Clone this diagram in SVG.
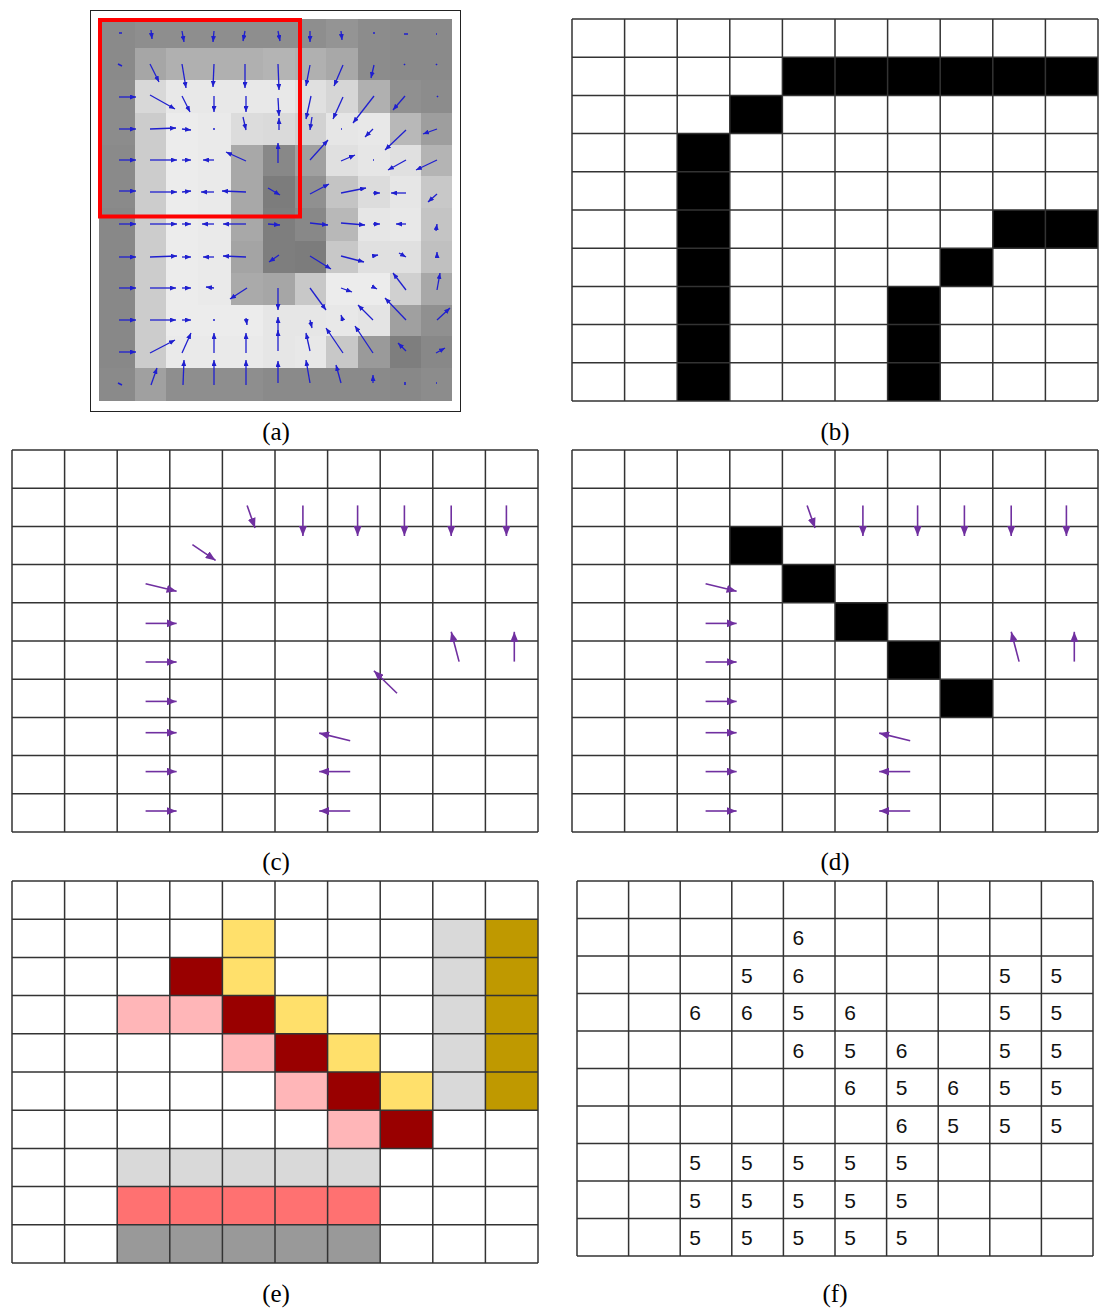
<svg xmlns="http://www.w3.org/2000/svg" width="1099" height="1310" viewBox="0 0 1099 1310">
<style>
.grid{fill:none;stroke:#333;stroke-width:1.5}
.blk{fill:#000}
.pa{stroke:#7030a0;stroke-width:1.6;fill:none;marker-end:url(#ap)}
.ba{stroke:#1f1fcf;stroke-width:1.3;fill:none;marker-end:url(#ab)}
.bd{stroke:#1f1fcf;stroke-width:1.6;fill:none}
.lbl{font-family:"Liberation Serif","Times New Roman",serif;font-size:25px;text-anchor:middle;fill:#000}
.num{font-family:"Liberation Sans",Arial,sans-serif;font-size:21px;text-anchor:middle;fill:#111}
</style>
<defs>
<marker id="ap" viewBox="0 0 10 8" refX="10" refY="4" markerWidth="10" markerHeight="8" markerUnits="userSpaceOnUse" orient="auto"><path d="M0,0L10,4L0,8z" fill="#7030a0"/></marker>
<marker id="ab" viewBox="0 0 6 5" refX="6" refY="2.5" markerWidth="6" markerHeight="5" markerUnits="userSpaceOnUse" orient="auto"><path d="M0,0L6,2.5L0,5z" fill="#1f1fcf"/></marker>
</defs>
<rect width="1099" height="1310" fill="#fff"/>

<g id="panel-a">
<g id="pixels-a">
<!-- row 0 -->
<rect x="99" y="19" width="36" height="29" fill="#8a8a8a"/><rect x="135" y="19" width="31" height="29" fill="#8e8e8e"/><rect x="166" y="19" width="32" height="29" fill="#8e8e8e"/><rect x="198" y="19" width="33" height="29" fill="#8e8e8e"/><rect x="231" y="19" width="32" height="29" fill="#8e8e8e"/><rect x="263" y="19" width="32" height="29" fill="#8e8e8e"/><rect x="295" y="19" width="31" height="29" fill="#8e8e8e"/><rect x="326" y="19" width="32" height="29" fill="#949494"/><rect x="358" y="19" width="32" height="29" fill="#8c8c8c"/><rect x="390" y="19" width="31" height="29" fill="#8a8a8a"/><rect x="421" y="19" width="31" height="29" fill="#8a8a8a"/>
<!-- row 1 -->
<rect x="99" y="48" width="36" height="32" fill="#8a8a8a"/><rect x="135" y="48" width="31" height="32" fill="#a6a6a6"/><rect x="166" y="48" width="32" height="32" fill="#b0b0b0"/><rect x="198" y="48" width="33" height="32" fill="#b0b0b0"/><rect x="231" y="48" width="32" height="32" fill="#b0b0b0"/><rect x="263" y="48" width="32" height="32" fill="#b4b4b4"/><rect x="295" y="48" width="31" height="32" fill="#b0b0b0"/><rect x="326" y="48" width="32" height="32" fill="#a8a8a8"/><rect x="358" y="48" width="32" height="32" fill="#8c8c8c"/><rect x="390" y="48" width="31" height="32" fill="#8a8a8a"/><rect x="421" y="48" width="31" height="32" fill="#8a8a8a"/>
<!-- row 2 -->
<rect x="99" y="80" width="36" height="33" fill="#8c8c8c"/><rect x="135" y="80" width="31" height="33" fill="#d8d8d8"/><rect x="166" y="80" width="32" height="33" fill="#e8e8e8"/><rect x="198" y="80" width="33" height="33" fill="#e8e8e8"/><rect x="231" y="80" width="32" height="33" fill="#e8e8e8"/><rect x="263" y="80" width="32" height="33" fill="#e8e8e8"/><rect x="295" y="80" width="31" height="33" fill="#e0e0e0"/><rect x="326" y="80" width="32" height="33" fill="#d6d6d6"/><rect x="358" y="80" width="32" height="33" fill="#b0b0b0"/><rect x="390" y="80" width="31" height="33" fill="#909090"/><rect x="421" y="80" width="31" height="33" fill="#8c8c8c"/>
<!-- row 3 -->
<rect x="99" y="113" width="36" height="32" fill="#8c8c8c"/><rect x="135" y="113" width="31" height="32" fill="#cccccc"/><rect x="166" y="113" width="32" height="32" fill="#ececec"/><rect x="198" y="113" width="33" height="32" fill="#eaeaea"/><rect x="231" y="113" width="32" height="32" fill="#dcdcdc"/><rect x="263" y="113" width="32" height="32" fill="#dadada"/><rect x="295" y="113" width="31" height="32" fill="#d2d2d2"/><rect x="326" y="113" width="32" height="32" fill="#e6e6e6"/><rect x="358" y="113" width="32" height="32" fill="#e8e8e8"/><rect x="390" y="113" width="31" height="32" fill="#b8b8b8"/><rect x="421" y="113" width="31" height="32" fill="#9e9e9e"/>
<!-- row 4 -->
<rect x="99" y="145" width="36" height="31" fill="#8a8a8a"/><rect x="135" y="145" width="31" height="31" fill="#cccccc"/><rect x="166" y="145" width="32" height="31" fill="#ececec"/><rect x="198" y="145" width="33" height="31" fill="#eaeaea"/><rect x="231" y="145" width="32" height="31" fill="#a8a8a8"/><rect x="263" y="145" width="32" height="31" fill="#888888"/><rect x="295" y="145" width="31" height="31" fill="#a0a0a0"/><rect x="326" y="145" width="32" height="31" fill="#e0e0e0"/><rect x="358" y="145" width="32" height="31" fill="#e6e6e6"/><rect x="390" y="145" width="31" height="31" fill="#e0e0e0"/><rect x="421" y="145" width="31" height="31" fill="#b4b4b4"/>
<!-- row 5 -->
<rect x="99" y="176" width="36" height="32" fill="#8a8a8a"/><rect x="135" y="176" width="31" height="32" fill="#cccccc"/><rect x="166" y="176" width="32" height="32" fill="#ececec"/><rect x="198" y="176" width="33" height="32" fill="#eaeaea"/><rect x="231" y="176" width="32" height="32" fill="#a8a8a8"/><rect x="263" y="176" width="32" height="32" fill="#7c7c7c"/><rect x="295" y="176" width="31" height="32" fill="#909090"/><rect x="326" y="176" width="32" height="32" fill="#c4c4c4"/><rect x="358" y="176" width="32" height="32" fill="#dcdcdc"/><rect x="390" y="176" width="31" height="32" fill="#e6e6e6"/><rect x="421" y="176" width="31" height="32" fill="#c8c8c8"/>
<!-- row 6 -->
<rect x="99" y="208" width="36" height="33" fill="#888888"/><rect x="135" y="208" width="31" height="33" fill="#cccccc"/><rect x="166" y="208" width="32" height="33" fill="#ececec"/><rect x="198" y="208" width="33" height="33" fill="#eaeaea"/><rect x="231" y="208" width="32" height="33" fill="#a8a8a8"/><rect x="263" y="208" width="32" height="33" fill="#7e7e7e"/><rect x="295" y="208" width="31" height="33" fill="#888888"/><rect x="326" y="208" width="32" height="33" fill="#b8b8b8"/><rect x="358" y="208" width="32" height="33" fill="#e6e6e6"/><rect x="390" y="208" width="31" height="33" fill="#e8e8e8"/><rect x="421" y="208" width="31" height="33" fill="#c4c4c4"/>
<!-- row 7 -->
<rect x="99" y="241" width="36" height="32" fill="#888888"/><rect x="135" y="241" width="31" height="32" fill="#cccccc"/><rect x="166" y="241" width="32" height="32" fill="#ececec"/><rect x="198" y="241" width="33" height="32" fill="#eaeaea"/><rect x="231" y="241" width="32" height="32" fill="#a4a4a4"/><rect x="263" y="241" width="32" height="32" fill="#7e7e7e"/><rect x="295" y="241" width="31" height="32" fill="#7c7c7c"/><rect x="326" y="241" width="32" height="32" fill="#c8c8c8"/><rect x="358" y="241" width="32" height="32" fill="#e0e0e0"/><rect x="390" y="241" width="31" height="32" fill="#e0e0e0"/><rect x="421" y="241" width="31" height="32" fill="#c0c0c0"/>
<!-- row 8 -->
<rect x="99" y="273" width="36" height="32" fill="#888888"/><rect x="135" y="273" width="31" height="32" fill="#cccccc"/><rect x="166" y="273" width="32" height="32" fill="#ececec"/><rect x="198" y="273" width="33" height="32" fill="#eaeaea"/><rect x="231" y="273" width="32" height="32" fill="#aaaaaa"/><rect x="263" y="273" width="32" height="32" fill="#a6a6a6"/><rect x="295" y="273" width="31" height="32" fill="#c8c8c8"/><rect x="326" y="273" width="32" height="32" fill="#ececec"/><rect x="358" y="273" width="32" height="32" fill="#ececec"/><rect x="390" y="273" width="31" height="32" fill="#d0d0d0"/><rect x="421" y="273" width="31" height="32" fill="#a8a8a8"/>
<!-- row 9 -->
<rect x="99" y="305" width="36" height="31" fill="#888888"/><rect x="135" y="305" width="31" height="31" fill="#cccccc"/><rect x="166" y="305" width="32" height="31" fill="#ececec"/><rect x="198" y="305" width="33" height="31" fill="#ececec"/><rect x="231" y="305" width="32" height="31" fill="#ececec"/><rect x="263" y="305" width="32" height="31" fill="#e6e6e6"/><rect x="295" y="305" width="31" height="31" fill="#e6e6e6"/><rect x="326" y="305" width="32" height="31" fill="#e8e8e8"/><rect x="358" y="305" width="32" height="31" fill="#e4e4e4"/><rect x="390" y="305" width="31" height="31" fill="#a0a0a0"/><rect x="421" y="305" width="31" height="31" fill="#909090"/>
<!-- row 10 -->
<rect x="99" y="336" width="36" height="32" fill="#888888"/><rect x="135" y="336" width="31" height="32" fill="#cccccc"/><rect x="166" y="336" width="32" height="32" fill="#eaeaea"/><rect x="198" y="336" width="33" height="32" fill="#eaeaea"/><rect x="231" y="336" width="32" height="32" fill="#eaeaea"/><rect x="263" y="336" width="32" height="32" fill="#e6e6e6"/><rect x="295" y="336" width="31" height="32" fill="#e8e8e8"/><rect x="326" y="336" width="32" height="32" fill="#c8c8c8"/><rect x="358" y="336" width="32" height="32" fill="#9a9a9a"/><rect x="390" y="336" width="31" height="32" fill="#7e7e7e"/><rect x="421" y="336" width="31" height="32" fill="#888888"/>
<!-- row 11 -->
<rect x="99" y="368" width="36" height="33" fill="#8a8a8a"/><rect x="135" y="368" width="31" height="33" fill="#a0a0a0"/><rect x="166" y="368" width="32" height="33" fill="#8e8e8e"/><rect x="198" y="368" width="33" height="33" fill="#8e8e8e"/><rect x="231" y="368" width="32" height="33" fill="#8e8e8e"/><rect x="263" y="368" width="32" height="33" fill="#8a8a8a"/><rect x="295" y="368" width="31" height="33" fill="#8a8a8a"/><rect x="326" y="368" width="32" height="33" fill="#8a8a8a"/><rect x="358" y="368" width="32" height="33" fill="#8a8a8a"/><rect x="390" y="368" width="31" height="33" fill="#888888"/><rect x="421" y="368" width="31" height="33" fill="#8c8c8c"/>
</g>
<g id="vectors-a">
<path class="bd" d="M119,33h3M373,33h2M404,34h4M436,34h1M118,64l4,2M404,64l1,1M436,64l1,1M437,96l1,1M213,129h2M341,129h1M373,160h1M213,320h2M118,383l4,2M405,385v-3M436,383h1"/>
<line class="ba" x1="151" y1="30" x2="152" y2="39"/><line class="ba" x1="182" y1="31" x2="184" y2="42"/><line class="ba" x1="214" y1="31" x2="213" y2="42"/><line class="ba" x1="245" y1="31" x2="243" y2="41"/><line class="ba" x1="278" y1="31" x2="280" y2="41"/><line class="ba" x1="310" y1="31" x2="310" y2="42"/><line class="ba" x1="341" y1="31" x2="342" y2="40"/>
<line class="ba" x1="150" y1="64" x2="159" y2="82"/><line class="ba" x1="182" y1="64" x2="186" y2="88"/><line class="ba" x1="214" y1="64" x2="213" y2="87"/><line class="ba" x1="245" y1="64" x2="245" y2="88"/><line class="ba" x1="278" y1="64" x2="279" y2="90"/><line class="ba" x1="310" y1="65" x2="306" y2="86"/><line class="ba" x1="343" y1="65" x2="334" y2="86"/><line class="ba" x1="374" y1="65" x2="371" y2="78"/>
<line class="ba" x1="119" y1="97" x2="136" y2="97"/><line class="ba" x1="150" y1="95" x2="175" y2="109"/><line class="ba" x1="182" y1="96" x2="190" y2="112"/><line class="ba" x1="214" y1="96" x2="214" y2="112"/><line class="ba" x1="246" y1="96" x2="246" y2="112"/><line class="ba" x1="278" y1="98" x2="279" y2="116"/><line class="ba" x1="311" y1="96" x2="306" y2="119"/><line class="ba" x1="343" y1="97" x2="333" y2="119"/><line class="ba" x1="374" y1="96" x2="353" y2="123"/><line class="ba" x1="405" y1="96" x2="393" y2="110"/>
<line class="ba" x1="119" y1="129" x2="136" y2="129"/><line class="ba" x1="150" y1="129" x2="176" y2="128"/><line class="ba" x1="182" y1="129" x2="191" y2="130"/><line class="ba" x1="243" y1="117" x2="246" y2="130"/><line class="ba" x1="279" y1="130" x2="279" y2="118"/><line class="ba" x1="312" y1="117" x2="310" y2="130"/><line class="ba" x1="373" y1="129" x2="365" y2="137"/><line class="ba" x1="406" y1="130" x2="385" y2="150"/><line class="ba" x1="437" y1="129" x2="423" y2="134"/>
<line class="ba" x1="119" y1="160" x2="136" y2="160"/><line class="ba" x1="150" y1="160" x2="177" y2="160"/><line class="ba" x1="182" y1="160" x2="191" y2="160"/><line class="ba" x1="214" y1="160" x2="203" y2="160"/><line class="ba" x1="246" y1="161" x2="226" y2="152"/><line class="ba" x1="278" y1="163" x2="278" y2="143"/><line class="ba" x1="310" y1="160" x2="328" y2="140"/><line class="ba" x1="341" y1="161" x2="355" y2="155"/><line class="ba" x1="406" y1="160" x2="388" y2="170"/><line class="ba" x1="437" y1="160" x2="416" y2="170"/>
<line class="ba" x1="119" y1="191" x2="136" y2="191"/><line class="ba" x1="150" y1="192" x2="177" y2="192"/><line class="ba" x1="182" y1="192" x2="191" y2="191"/><line class="ba" x1="214" y1="192" x2="201" y2="192"/><line class="ba" x1="246" y1="192" x2="222" y2="191"/><line class="ba" x1="268" y1="188" x2="280" y2="195"/><line class="ba" x1="310" y1="194" x2="329" y2="184"/><line class="ba" x1="341" y1="193" x2="366" y2="188"/><line class="ba" x1="373" y1="193" x2="380" y2="193"/><line class="ba" x1="406" y1="193" x2="391" y2="193"/><line class="ba" x1="437" y1="194" x2="428" y2="202"/>
<line class="ba" x1="119" y1="224" x2="136" y2="224"/><line class="ba" x1="150" y1="224" x2="177" y2="224"/><line class="ba" x1="182" y1="224" x2="191" y2="224"/><line class="ba" x1="214" y1="224" x2="202" y2="224"/><line class="ba" x1="246" y1="224" x2="223" y2="224"/><line class="ba" x1="268" y1="224" x2="280" y2="225"/><line class="ba" x1="310" y1="223" x2="328" y2="225"/><line class="ba" x1="341" y1="223" x2="365" y2="225"/><line class="ba" x1="373" y1="224" x2="380" y2="224"/><line class="ba" x1="406" y1="224" x2="396" y2="224"/><line class="ba" x1="436" y1="231" x2="437" y2="224"/>
<line class="ba" x1="119" y1="257" x2="136" y2="257"/><line class="ba" x1="150" y1="257" x2="177" y2="256"/><line class="ba" x1="182" y1="257" x2="191" y2="257"/><line class="ba" x1="214" y1="257" x2="203" y2="257"/><line class="ba" x1="246" y1="257" x2="223" y2="256"/><line class="ba" x1="279" y1="255" x2="269" y2="262"/><line class="ba" x1="310" y1="256" x2="331" y2="269"/><line class="ba" x1="341" y1="256" x2="364" y2="262"/><line class="ba" x1="373" y1="256" x2="378" y2="255"/><line class="ba" x1="399" y1="253" x2="406" y2="257"/><line class="ba" x1="437" y1="257" x2="437" y2="252"/>
<line class="ba" x1="119" y1="288" x2="136" y2="288"/><line class="ba" x1="150" y1="288" x2="176" y2="288"/><line class="ba" x1="182" y1="288" x2="191" y2="288"/><line class="ba" x1="214" y1="288" x2="206" y2="287"/><line class="ba" x1="247" y1="288" x2="230" y2="299"/><line class="ba" x1="278" y1="288" x2="278" y2="310"/><line class="ba" x1="310" y1="288" x2="326" y2="310"/><line class="ba" x1="341" y1="288" x2="352" y2="292"/><line class="ba" x1="373" y1="287" x2="377" y2="289"/><line class="ba" x1="406" y1="290" x2="393" y2="273"/><line class="ba" x1="437" y1="290" x2="440" y2="273"/>
<line class="ba" x1="119" y1="320" x2="136" y2="320"/><line class="ba" x1="150" y1="320" x2="176" y2="320"/><line class="ba" x1="182" y1="320" x2="191" y2="320"/><line class="ba" x1="246" y1="318" x2="247" y2="325"/><line class="ba" x1="278" y1="333" x2="278" y2="317"/><line class="ba" x1="310" y1="320" x2="312" y2="328"/><line class="ba" x1="343" y1="321" x2="341" y2="315"/><line class="ba" x1="373" y1="320" x2="358" y2="305"/><line class="ba" x1="406" y1="320" x2="385" y2="298"/><line class="ba" x1="437" y1="320" x2="450" y2="308"/>
<line class="ba" x1="119" y1="352" x2="136" y2="352"/><line class="ba" x1="150" y1="353" x2="175" y2="340"/><line class="ba" x1="182" y1="353" x2="191" y2="333"/><line class="ba" x1="214" y1="353" x2="214" y2="333"/><line class="ba" x1="246" y1="353" x2="246" y2="333"/><line class="ba" x1="278" y1="351" x2="278" y2="330"/><line class="ba" x1="310" y1="351" x2="306" y2="333"/><line class="ba" x1="343" y1="353" x2="326" y2="328"/><line class="ba" x1="373" y1="353" x2="355" y2="326"/><line class="ba" x1="406" y1="351" x2="398" y2="343"/><line class="ba" x1="436" y1="353" x2="445" y2="348"/>
<line class="ba" x1="151" y1="385" x2="157" y2="368"/><line class="ba" x1="183" y1="385" x2="184" y2="360"/><line class="ba" x1="214" y1="385" x2="214" y2="360"/><line class="ba" x1="246" y1="385" x2="246" y2="360"/><line class="ba" x1="278" y1="383" x2="278" y2="361"/><line class="ba" x1="310" y1="383" x2="306" y2="360"/><line class="ba" x1="341" y1="383" x2="336" y2="365"/><line class="ba" x1="373" y1="383" x2="373" y2="375"/>
</g>
<rect x="100" y="20" width="200" height="196.5" fill="none" stroke="#ff0000" stroke-width="4"/>
<rect x="90.5" y="10.5" width="370" height="401" fill="none" stroke="#222" stroke-width="1"/>
<text class="lbl" x="276" y="440">(a)</text>
</g>

<g id="panel-b">
<rect class="blk" x="782.4" y="57.2" width="315.6" height="38.2"/>
<rect class="blk" x="729.8" y="95.4" width="52.6" height="38.2"/>
<rect class="blk" x="677.2" y="133.6" width="52.6" height="267.4"/>
<rect class="blk" x="992.8" y="210" width="105.2" height="38.2"/>
<rect class="blk" x="940.2" y="248.2" width="52.6" height="38.2"/>
<rect class="blk" x="887.6" y="286.4" width="52.6" height="114.6"/>
<path class="grid" d="M572,19V401M624.6,19V401M677.2,19V401M729.8,19V401M782.4,19V401M835,19V401M887.6,19V401M940.2,19V401M992.8,19V401M1045.4,19V401M1098,19V401M572,19H1098M572,57.2H1098M572,95.4H1098M572,133.6H1098M572,171.8H1098M572,210H1098M572,248.2H1098M572,286.4H1098M572,324.6H1098M572,362.8H1098M572,401H1098"/>
<text class="lbl" x="835" y="440">(b)</text>
</g>

<g id="panel-c">
<path class="grid" d="M12,450V832M64.6,450V832M117.2,450V832M169.8,450V832M222.4,450V832M275,450V832M327.6,450V832M380.2,450V832M432.8,450V832M485.4,450V832M538,450V832M12,450H538M12,488.2H538M12,526.4H538M12,564.6H538M12,602.8H538M12,641H538M12,679.2H538M12,717.4H538M12,755.6H538M12,793.8H538M12,832H538"/>
<g id="arrows-c">
<line class="pa" x1="247.1" y1="505.4" x2="255" y2="527.9"/>
<line class="pa" x1="302.9" y1="505.4" x2="302.9" y2="536"/>
<line class="pa" x1="357.6" y1="505.4" x2="357.6" y2="536"/>
<line class="pa" x1="404.4" y1="505.4" x2="404.4" y2="536"/>
<line class="pa" x1="451.2" y1="505.4" x2="451.2" y2="536"/>
<line class="pa" x1="506.4" y1="505.4" x2="506.4" y2="536"/>
<line class="pa" x1="192.4" y1="544.7" x2="215.6" y2="560.4"/>
<line class="pa" x1="145.6" y1="583.7" x2="176.6" y2="591.3"/>
<line class="pa" x1="145.6" y1="623.4" x2="176.6" y2="623.4"/>
<line class="pa" x1="145.6" y1="662" x2="176.6" y2="662"/>
<line class="pa" x1="145.6" y1="701.4" x2="176.6" y2="701.4"/>
<line class="pa" x1="145.6" y1="732.7" x2="176.6" y2="732.7"/>
<line class="pa" x1="145.6" y1="771.6" x2="176.6" y2="771.6"/>
<line class="pa" x1="145.6" y1="811" x2="176.6" y2="811"/>
<line class="pa" x1="459.1" y1="661.6" x2="451.2" y2="631.8"/>
<line class="pa" x1="514.3" y1="661.6" x2="514.3" y2="631.8"/>
<line class="pa" x1="397" y1="693.3" x2="373.9" y2="670.8"/>
<line class="pa" x1="350.2" y1="740.7" x2="319.2" y2="733.1"/>
<line class="pa" x1="350.2" y1="771.6" x2="319.2" y2="771.6"/>
<line class="pa" x1="350.2" y1="811" x2="319.2" y2="811"/>
</g>
<text class="lbl" x="276" y="870">(c)</text>
</g>

<g id="panel-d">
<rect class="blk" x="729.8" y="526.4" width="52.6" height="38.2"/>
<rect class="blk" x="782.4" y="564.6" width="52.6" height="38.2"/>
<rect class="blk" x="835" y="602.8" width="52.6" height="38.2"/>
<rect class="blk" x="887.6" y="641" width="52.6" height="38.2"/>
<rect class="blk" x="940.2" y="679.2" width="52.6" height="38.2"/>
<path class="grid" d="M572,450V832M624.6,450V832M677.2,450V832M729.8,450V832M782.4,450V832M835,450V832M887.6,450V832M940.2,450V832M992.8,450V832M1045.4,450V832M1098,450V832M572,450H1098M572,488.2H1098M572,526.4H1098M572,564.6H1098M572,602.8H1098M572,641H1098M572,679.2H1098M572,717.4H1098M572,755.6H1098M572,793.8H1098M572,832H1098"/>
<g id="arrows-d" transform="translate(560,0)">
<line class="pa" x1="247.1" y1="505.4" x2="255" y2="527.9"/>
<line class="pa" x1="302.9" y1="505.4" x2="302.9" y2="536"/>
<line class="pa" x1="357.6" y1="505.4" x2="357.6" y2="536"/>
<line class="pa" x1="404.4" y1="505.4" x2="404.4" y2="536"/>
<line class="pa" x1="451.2" y1="505.4" x2="451.2" y2="536"/>
<line class="pa" x1="506.4" y1="505.4" x2="506.4" y2="536"/>
<line class="pa" x1="145.6" y1="583.7" x2="176.6" y2="591.3"/>
<line class="pa" x1="145.6" y1="623.4" x2="176.6" y2="623.4"/>
<line class="pa" x1="145.6" y1="662" x2="176.6" y2="662"/>
<line class="pa" x1="145.6" y1="701.4" x2="176.6" y2="701.4"/>
<line class="pa" x1="145.6" y1="732.7" x2="176.6" y2="732.7"/>
<line class="pa" x1="145.6" y1="771.6" x2="176.6" y2="771.6"/>
<line class="pa" x1="145.6" y1="811" x2="176.6" y2="811"/>
<line class="pa" x1="459.1" y1="661.6" x2="451.2" y2="631.8"/>
<line class="pa" x1="514.3" y1="661.6" x2="514.3" y2="631.8"/>
<line class="pa" x1="350.2" y1="740.7" x2="319.2" y2="733.1"/>
<line class="pa" x1="350.2" y1="771.6" x2="319.2" y2="771.6"/>
<line class="pa" x1="350.2" y1="811" x2="319.2" y2="811"/>
</g>
<text class="lbl" x="835" y="870">(d)</text>
</g>

<g id="panel-e">
<rect x="222.4" y="919.2" width="52.6" height="76.4" fill="#ffe06b"/>
<rect x="275" y="995.6" width="52.6" height="38.2" fill="#ffe06b"/>
<rect x="327.6" y="1033.8" width="52.6" height="38.2" fill="#ffe06b"/>
<rect x="380.2" y="1072" width="52.6" height="38.2" fill="#ffe06b"/>
<rect x="169.8" y="957.4" width="52.6" height="38.2" fill="#990000"/>
<rect x="222.4" y="995.6" width="52.6" height="38.2" fill="#990000"/>
<rect x="275" y="1033.8" width="52.6" height="38.2" fill="#990000"/>
<rect x="327.6" y="1072" width="52.6" height="38.2" fill="#990000"/>
<rect x="380.2" y="1110.2" width="52.6" height="38.2" fill="#990000"/>
<rect x="117.2" y="995.6" width="105.2" height="38.2" fill="#ffb6b8"/>
<rect x="222.4" y="1033.8" width="52.6" height="38.2" fill="#ffb6b8"/>
<rect x="275" y="1072" width="52.6" height="38.2" fill="#ffb6b8"/>
<rect x="327.6" y="1110.2" width="52.6" height="38.2" fill="#ffb6b8"/>
<rect x="432.8" y="919.2" width="52.6" height="191" fill="#d9d9d9"/>
<rect x="485.4" y="919.2" width="52.6" height="191" fill="#bf9900"/>
<rect x="117.2" y="1148.4" width="263" height="38.2" fill="#d9d9d9"/>
<rect x="117.2" y="1186.6" width="263" height="38.2" fill="#ff7171"/>
<rect x="117.2" y="1224.8" width="263" height="38.2" fill="#999999"/>
<path class="grid" d="M12,881V1263M64.6,881V1263M117.2,881V1263M169.8,881V1263M222.4,881V1263M275,881V1263M327.6,881V1263M380.2,881V1263M432.8,881V1263M485.4,881V1263M538,881V1263M12,881H538M12,919.2H538M12,957.4H538M12,995.6H538M12,1033.8H538M12,1072H538M12,1110.2H538M12,1148.4H538M12,1186.6H538M12,1224.8H538M12,1263H538"/>
<text class="lbl" x="276" y="1302">(e)</text>
</g>

<g id="panel-f">
<path class="grid" d="M577,881V1256M628.6,881V1256M680.2,881V1256M731.8,881V1256M783.4,881V1256M835,881V1256M886.6,881V1256M938.2,881V1256M989.8,881V1256M1041.4,881V1256M1093,881V1256M577,881H1093M577,918.5H1093M577,956H1093M577,993.5H1093M577,1031H1093M577,1068.5H1093M577,1106H1093M577,1143.5H1093M577,1181H1093M577,1218.5H1093M577,1256H1093"/>
<g id="values-f">
<text class="num" x="798.4" y="945">6</text>
<text class="num" x="746.8" y="982.5">5</text><text class="num" x="798.4" y="982.5">6</text><text class="num" x="1004.8" y="982.5">5</text><text class="num" x="1056.4" y="982.5">5</text>
<text class="num" x="695.2" y="1020">6</text><text class="num" x="746.8" y="1020">6</text><text class="num" x="798.4" y="1020">5</text><text class="num" x="850" y="1020">6</text><text class="num" x="1004.8" y="1020">5</text><text class="num" x="1056.4" y="1020">5</text>
<text class="num" x="798.4" y="1057.5">6</text><text class="num" x="850" y="1057.5">5</text><text class="num" x="901.6" y="1057.5">6</text><text class="num" x="1004.8" y="1057.5">5</text><text class="num" x="1056.4" y="1057.5">5</text>
<text class="num" x="850" y="1095">6</text><text class="num" x="901.6" y="1095">5</text><text class="num" x="953.2" y="1095">6</text><text class="num" x="1004.8" y="1095">5</text><text class="num" x="1056.4" y="1095">5</text>
<text class="num" x="901.6" y="1132.5">6</text><text class="num" x="953.2" y="1132.5">5</text><text class="num" x="1004.8" y="1132.5">5</text><text class="num" x="1056.4" y="1132.5">5</text>
<text class="num" x="695.2" y="1170">5</text><text class="num" x="746.8" y="1170">5</text><text class="num" x="798.4" y="1170">5</text><text class="num" x="850" y="1170">5</text><text class="num" x="901.6" y="1170">5</text>
<text class="num" x="695.2" y="1207.5">5</text><text class="num" x="746.8" y="1207.5">5</text><text class="num" x="798.4" y="1207.5">5</text><text class="num" x="850" y="1207.5">5</text><text class="num" x="901.6" y="1207.5">5</text>
<text class="num" x="695.2" y="1245">5</text><text class="num" x="746.8" y="1245">5</text><text class="num" x="798.4" y="1245">5</text><text class="num" x="850" y="1245">5</text><text class="num" x="901.6" y="1245">5</text>
</g>
<text class="lbl" x="835" y="1302">(f)</text>
</g>
</svg>
